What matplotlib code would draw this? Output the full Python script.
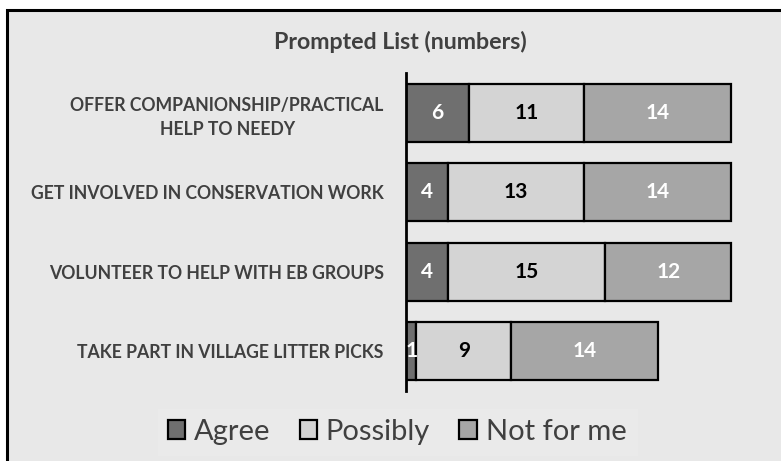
import matplotlib.pyplot as plt
from matplotlib.patches import Rectangle

# Data
categories = ['OFFER COMPANIONSHIP/PRACTICAL\nHELP TO NEEDY',
              'GET INVOLVED IN CONSERVATION WORK',
              'VOLUNTEER TO HELP WITH EB GROUPS',
              'TAKE PART IN VILLAGE LITTER PICKS']
agree = [6, 4, 4, 1]
possibly = [11, 13, 15, 9]
not_for_me = [14, 14, 12, 14]
series_names = ['Agree', 'Possibly', 'Not for me']

colors = ['#6f6f6f', '#d4d4d4', '#a6a6a6']
text_colors = ['white', 'black', 'white']
bg = '#e8e8e8'
label_grey = '#404040'

plt.rcParams['font.family'] = ['Lato', 'DejaVu Sans']

fig = plt.figure(figsize=(7.81, 4.61), dpi=100)
fig.patch.set_facecolor('white')

# Grey chart frame with black border
frame = Rectangle((7 / 781, -0.05), 1.1, 1 - 10 / 461 + 0.05,
                  transform=fig.transFigure, facecolor=bg,
                  edgecolor='black', linewidth=2.2, zorder=-5)
fig.patches.append(frame)

ax = fig.add_axes([406 / 781, 70 / 461, 364 / 781, 318 / 461])
ax.set_facecolor('none')
ax.set_zorder(2)

y = list(range(len(categories)))
left = [0] * len(categories)
for vals, name, c, tc in zip([agree, possibly, not_for_me], series_names, colors, text_colors):
    bars = ax.barh(y, vals, left=left, height=0.73, color=c, edgecolor='black',
                   linewidth=1.6, label=name)
    ax.bar_label(bars, labels=[str(v) for v in vals], label_type='center',
                 color=tc, fontsize=15, fontweight='bold')
    left = [l + v for l, v in zip(left, vals)]

ax.set_xlim(0, 34.7)
ax.set_ylim(3.5, -0.5)
ax.set_yticks(y)
ax.set_yticklabels(categories, fontsize=12.7, fontweight='bold', color=label_grey,
                   multialignment='center', linespacing=1.5)
ax.tick_params(axis='y', length=0, pad=16)
ax.set_xticks([])

for side in ['top', 'right', 'bottom']:
    ax.spines[side].set_visible(False)
ax.spines['left'].set_linewidth(2)
ax.spines['left'].set_color('black')

fig.text(400 / 781, 1 - 42 / 461, 'Prompted List (numbers)', ha='center', va='center',
         fontsize=16.7, fontweight='bold', color=label_grey)

leg = fig.legend(loc='center', bbox_to_anchor=(397 / 781, 1 - 432 / 461), ncol=3,
                 frameon=True, fontsize=21, handlelength=0.6, handleheight=0.6,
                 handletextpad=0.3, columnspacing=1.0, borderpad=0.35)
leg.get_frame().set_facecolor('#ebebeb')
leg.get_frame().set_edgecolor('#ebebeb')
leg.get_frame().set_boxstyle('square', pad=0)
leg.set_zorder(3)
for t in leg.get_texts():
    t.set_color(label_grey)

fig.savefig('out.png', dpi=100, facecolor=fig.get_facecolor())
